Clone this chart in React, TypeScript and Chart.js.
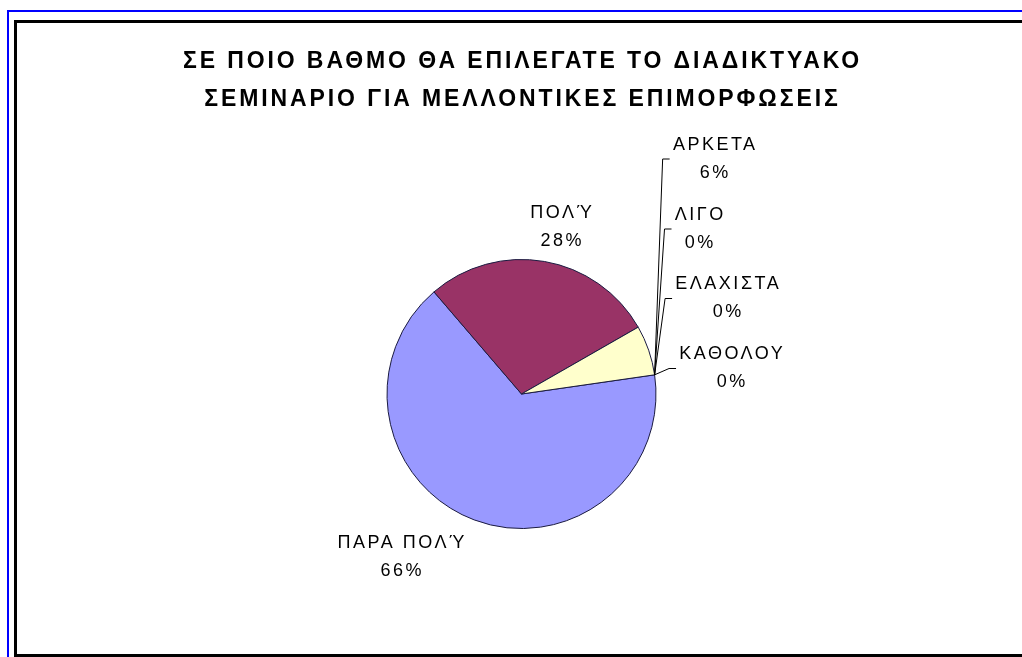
import React, { useEffect, useRef } from "react";
import { Chart, registerables } from "chart.js";

Chart.register(...registerables);

// ---- data ----
const titleLines = [
  "ΣΕ ΠΟΙΟ ΒΑΘΜΟ ΘΑ ΕΠΙΛΕΓΑΤΕ ΤΟ ΔΙΑΔΙΚΤΥΑΚΟ",
  "ΣΕΜΙΝΑΡΙΟ ΓΙΑ ΜΕΛΛΟΝΤΙΚΕΣ ΕΠΙΜΟΡΦΩΣΕΙΣ",
];
const categories = ["ΠΑΡΑ ΠΟΛΎ", "ΠΟΛΎ", "ΑΡΚΕΤΑ", "ΛΙΓΟ", "ΕΛΑΧΙΣΤΑ", "ΚΑΘΟΛΟΥ"];
const percentages = [66, 28, 6, 0, 0, 0];
const sliceColors = ["#9999FF", "#993366", "#FFFFCC", "#CCFFFF", "#660066", "#FF8080"];

// ---- layout (label block centres, offset from pie centre, px) ----
const labelOffsets = [
  [-120.5, 163.5],
  [39.5, -167],
  [192.5, -235],
  [177.5, -165],
  [205.5, -95.5],
  [209.5, -25.5],
];
const hasLeader = [false, false, true, true, true, true];

const W = 1022;
const H = 657;

const overlayPlugin = {
  id: "overlay",
  afterDraw(chart: any) {
    const ctx: CanvasRenderingContext2D = chart.ctx;
    const meta = chart.getDatasetMeta(0);
    const arcs = meta.data as any[];
    const cx = arcs[0].x;
    const cy = arcs[0].y;

    // title
    ctx.save();
    ctx.fillStyle = "#000";
    ctx.textAlign = "center";
    ctx.textBaseline = "middle";
    ctx.font = "bold 23px 'Liberation Sans', Arial, sans-serif";
    const tls = 2.9;
    (ctx as any).letterSpacing = tls + "px";
    titleLines.forEach((t, i) => {
      ctx.fillText(t, 521 + tls / 2, 62 + i * 38);
    });
    ctx.restore();

    // labels
    ctx.save();
    ctx.fillStyle = "#000";
    ctx.strokeStyle = "#000";
    ctx.lineWidth = 1;
    ctx.textAlign = "center";
    ctx.textBaseline = "middle";
    ctx.font = "18px 'Liberation Sans', Arial, sans-serif";
    const ls = 2.5;
    (ctx as any).letterSpacing = ls + "px";
    const lineGap = 28;
    categories.forEach((name, i) => {
      const [dx, dy] = labelOffsets[i];
      const bx = cx + dx;
      const by = cy + dy;
      const pct = percentages[i] + "%";
      ctx.fillText(name, bx + ls / 2, by - lineGap / 2);
      ctx.fillText(pct, bx + ls / 2, by + lineGap / 2);
      if (hasLeader[i]) {
        const wName = ctx.measureText(name).width;
        const wPct = ctx.measureText(pct).width;
        const left = bx - Math.max(wName, wPct) / 2;
        const a = arcs[i];
        const ax = a.x + Math.cos(a.endAngle) * a.outerRadius;
        const ay = a.y + Math.sin(a.endAngle) * a.outerRadius;
        ctx.beginPath();
        ctx.moveTo(left - 2, by);
        ctx.lineTo(left - 9, by);
        ctx.lineTo(ax, ay);
        ctx.stroke();
      }
    });
    ctx.restore();
  },
};

export default function App() {
  const canvasRef = useRef<HTMLCanvasElement | null>(null);

  useEffect(() => {
    if (!canvasRef.current) return;
    const chart = new Chart(canvasRef.current, {
      type: "pie",
      data: {
        labels: categories,
        datasets: [
          {
            data: percentages,
            backgroundColor: sliceColors,
            borderColor: "#1a1a40",
            borderWidth: 1,
          },
        ],
      },
      options: {
        responsive: false,
        animation: false,
        rotation: 81.8,
        layout: { padding: { left: 386, right: 365, top: 259, bottom: 128 } },
        plugins: {
          legend: { display: false },
          title: { display: false },
          tooltip: { enabled: false },
        },
      },
      plugins: [overlayPlugin],
    });
    return () => chart.destroy();
  }, []);

  return (
    <div
      style={{
        position: "fixed",
        left: 0,
        top: 0,
        width: W,
        height: H,
        background: "#fff",
        overflow: "hidden",
      }}
    >
      <div
        style={{
          position: "absolute",
          left: 7,
          top: 10,
          width: 1040,
          height: 700,
          border: "2px solid #0000FF",
          boxSizing: "border-box",
        }}
      />
      <div
        style={{
          position: "absolute",
          left: 14,
          top: 20,
          width: 1040,
          height: 637,
          borderLeft: "3px solid #000",
          borderTop: "3px solid #000",
          borderBottom: "3px solid #000",
          boxSizing: "border-box",
        }}
      />
      <canvas
        ref={canvasRef}
        width={W}
        height={H}
        style={{ position: "absolute", left: 0, top: 0, width: W, height: H }}
      />
    </div>
  );
}
